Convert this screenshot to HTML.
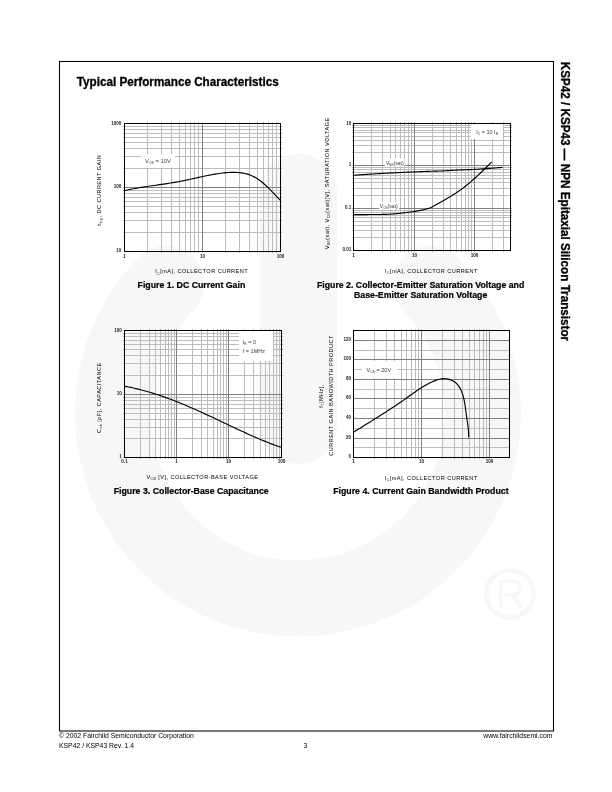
<!DOCTYPE html><html><head><meta charset="utf-8"><title>KSP42 / KSP43 Typical Performance Characteristics</title>
<style>html,body{margin:0;padding:0;background:#fff;}body{width:612px;height:792px;overflow:hidden;position:relative;}svg{position:absolute;left:0;top:0;display:block;}text{font-family:"Liberation Sans", Arial, Helvetica, sans-serif;}.b{stroke:#000;stroke-width:0.3px;}.c{stroke:#000;stroke-width:0.22px;}</style></head><body>
<svg width="612" height="792" viewBox="0 0 612 792">
<g fill="none" stroke="#f7f7f7">
<path d="M429.95,283.83 A185,185 0 1 1 166.05,283.83" stroke-width="76" stroke-linecap="round"/>
<path d="M298.25,192.25V425.25" stroke-width="77.5" stroke-linecap="round"/>
<circle cx="509.8" cy="594.2" r="23.7" stroke-width="4.6"/>
</g>
<text x="495.5" y="608.3" font-size="41" fill="#f7f7f7">R</text>
<rect x="59.5" y="61.5" width="494" height="669.5" fill="none" stroke="#000" stroke-width="1.05"/>
<text transform="translate(76.8,85.7) scale(0.967,1)" font-size="12.1" font-weight="bold" class="b">Typical Performance Characteristics</text>
<text transform="translate(561.2,61.8) rotate(90) scale(0.967,1)" font-size="12.1" font-weight="bold" fill="#000" class="b">KSP42 / KSP43 — NPN Epitaxial Silicon Transistor</text>
<text x="59" y="737.6" font-size="6.83" text-anchor="start" font-weight="normal" fill="#000">© 2002 Fairchild Semiconductor Corporation</text>
<text x="59" y="747.8" font-size="6.83" text-anchor="start" font-weight="normal" fill="#000">KSP42 / KSP43 Rev. 1.4</text>
<text x="305.5" y="747.8" font-size="6.83" text-anchor="middle" font-weight="normal" fill="#000">3</text>
<text x="552.4" y="737.6" font-size="6.83" text-anchor="end" font-weight="normal" fill="#000">www.fairchildsemi.com</text>
<path d="M147.5,123.5V251.5M161.5,123.5V251.5M171.5,123.5V251.5M179.5,123.5V251.5M185.5,123.5V251.5M190.5,123.5V251.5M194.5,123.5V251.5M198.5,123.5V251.5M225.5,123.5V251.5M239.5,123.5V251.5M249.5,123.5V251.5M257.5,123.5V251.5M263.5,123.5V251.5M268.5,123.5V251.5M272.5,123.5V251.5M276.5,123.5V251.5M124.5,232.5H280.5M124.5,220.5H280.5M124.5,212.5H280.5M124.5,206.5H280.5M124.5,201.5H280.5M124.5,197.5H280.5M124.5,193.5H280.5M124.5,190.5H280.5M124.5,168.5H280.5M124.5,156.5H280.5M124.5,148.5H280.5M124.5,142.5H280.5M124.5,137.5H280.5M124.5,133.5H280.5M124.5,129.5H280.5M124.5,126.5H280.5" stroke="#bdbdbd" stroke-width="1.0" fill="none"/>
<path d="M202.5,123.5V251.5M124.5,187.5H280.5" stroke="#808080" stroke-width="1.0" fill="none"/>
<path d="M147.5,123.5v-1.2M147.5,251.5v1.2M161.5,123.5v-1.2M161.5,251.5v1.2M171.5,123.5v-1.2M171.5,251.5v1.2M179.5,123.5v-1.2M179.5,251.5v1.2M185.5,123.5v-1.2M185.5,251.5v1.2M190.5,123.5v-1.2M190.5,251.5v1.2M194.5,123.5v-1.2M194.5,251.5v1.2M198.5,123.5v-1.2M198.5,251.5v1.2M202.5,123.5v-1.2M202.5,251.5v1.2M225.5,123.5v-1.2M225.5,251.5v1.2M239.5,123.5v-1.2M239.5,251.5v1.2M249.5,123.5v-1.2M249.5,251.5v1.2M257.5,123.5v-1.2M257.5,251.5v1.2M263.5,123.5v-1.2M263.5,251.5v1.2M268.5,123.5v-1.2M268.5,251.5v1.2M272.5,123.5v-1.2M272.5,251.5v1.2M276.5,123.5v-1.2M276.5,251.5v1.2M124.5,232.5h-1.2M280.5,232.5h1.2M124.5,220.5h-1.2M280.5,220.5h1.2M124.5,212.5h-1.2M280.5,212.5h1.2M124.5,206.5h-1.2M280.5,206.5h1.2M124.5,201.5h-1.2M280.5,201.5h1.2M124.5,197.5h-1.2M280.5,197.5h1.2M124.5,193.5h-1.2M280.5,193.5h1.2M124.5,190.5h-1.2M280.5,190.5h1.2M124.5,187.5h-1.2M280.5,187.5h1.2M124.5,168.5h-1.2M280.5,168.5h1.2M124.5,156.5h-1.2M280.5,156.5h1.2M124.5,148.5h-1.2M280.5,148.5h1.2M124.5,142.5h-1.2M280.5,142.5h1.2M124.5,137.5h-1.2M280.5,137.5h1.2M124.5,133.5h-1.2M280.5,133.5h1.2M124.5,129.5h-1.2M280.5,129.5h1.2M124.5,126.5h-1.2M280.5,126.5h1.2" stroke="#555" stroke-width="0.7" fill="none"/>
<rect x="140.9" y="154.3" width="34.1" height="13.3" fill="#fff"/>
<rect x="124.5" y="123.5" width="156" height="128" fill="none" stroke="#000" stroke-width="1.0"/>
<path d="M124.6,190.6 L126.46,190.19 L128.31,189.79 L130.17,189.41 L132.02,189.05 L133.88,188.7 L135.73,188.36 L137.58,188.03 L139.43,187.72 L141.28,187.41 L143.14,187.12 L144.98,186.83 L146.83,186.54 L148.68,186.27 L150.53,186 L152.38,185.73 L154.23,185.46 L156.07,185.2 L157.92,184.93 L159.77,184.66 L161.61,184.4 L163.46,184.13 L165.31,183.85 L167.15,183.57 L169,183.28 L170.84,182.99 L172.69,182.69 L174.53,182.38 L176.38,182.06 L178.23,181.72 L180.07,181.38 L181.92,181.02 L183.76,180.64 L185.61,180.26 L187.46,179.87 L189.31,179.46 L191.15,179.06 L193,178.65 L194.85,178.23 L196.7,177.82 L198.55,177.41 L200.41,177 L202.26,176.6 L204.11,176.2 L205.97,175.81 L207.83,175.44 L209.68,175.07 L211.54,174.72 L213.41,174.39 L215.27,174.07 L217.13,173.77 L219,173.5 L220.87,173.24 L222.74,173.02 L224.61,172.81 L226.49,172.64 L228.36,172.5 L230.24,172.4 L232.11,172.34 L233.97,172.32 L235.83,172.36 L237.67,172.45 L239.5,172.6 L241.32,172.81 L243.12,173.09 L244.9,173.45 L246.65,173.89 L248.38,174.41 L250.09,175.01 L251.76,175.71 L253.4,176.5 L255.02,177.37 L256.61,178.32 L258.17,179.34 L259.7,180.42 L261.21,181.56 L262.7,182.76 L264.16,184 L265.6,185.27 L267.01,186.59 L268.41,187.93 L269.79,189.29 L271.14,190.67 L272.48,192.05 L273.81,193.44 L275.11,194.83 L276.4,196.2 L277.68,197.57 L278.94,198.9 L280.19,200.22" stroke="#000" stroke-width="1.15" fill="none"/>
<text x="145" y="163.1" font-size="5.85" text-anchor="start" font-weight="normal" fill="#3a3a3a">V<tspan font-size="3.63" dy="1.29">CE</tspan><tspan dy="-1.29">​</tspan> = 10V</text>
<text transform="translate(121.3,124.8) scale(0.88,1)" font-size="5.2" text-anchor="end" font-weight="bold" fill="#1a1a1a">1000</text>
<text transform="translate(121.3,187.9) scale(0.88,1)" font-size="5.2" text-anchor="end" font-weight="bold" fill="#1a1a1a">100</text>
<text transform="translate(121.3,251.9) scale(0.88,1)" font-size="5.2" text-anchor="end" font-weight="bold" fill="#1a1a1a">10</text>
<text transform="translate(124.5,257.5) scale(0.88,1)" font-size="5.2" text-anchor="middle" font-weight="bold" fill="#1a1a1a">1</text>
<text transform="translate(202.5,257.5) scale(0.88,1)" font-size="5.2" text-anchor="middle" font-weight="bold" fill="#1a1a1a">10</text>
<text transform="translate(280.5,257.5) scale(0.88,1)" font-size="5.2" text-anchor="middle" font-weight="bold" fill="#1a1a1a">100</text>
<text transform="translate(101.3,190.6) rotate(-90)" font-size="5.6" text-anchor="middle" fill="#000" letter-spacing="0.45">h<tspan font-size="3.47" dy="1.23">FE</tspan><tspan dy="-1.23">​</tspan>, DC CURRENT GAIN</text>
<text x="201.7" y="273.3" font-size="5.6" text-anchor="middle" font-weight="normal" fill="#000" letter-spacing="0.45">I<tspan font-size="3.47" dy="1.23">C</tspan><tspan dy="-1.23">​</tspan>[mA], COLLECTOR CURRENT</text>
<text transform="translate(191.4,287.8) scale(0.954,1)" font-size="9.2" text-anchor="middle" font-weight="bold" class="c">Figure 1. DC Current Gain</text>
<path d="M371.5,123.5V250.5M382.5,123.5V250.5M390.5,123.5V250.5M395.5,123.5V250.5M400.5,123.5V250.5M404.5,123.5V250.5M408.5,123.5V250.5M411.5,123.5V250.5M432.5,123.5V250.5M443.5,123.5V250.5M450.5,123.5V250.5M456.5,123.5V250.5M461.5,123.5V250.5M465.5,123.5V250.5M468.5,123.5V250.5M471.5,123.5V250.5M492.5,123.5V250.5M503.5,123.5V250.5M353.5,237.5H510.5M353.5,230.5H510.5M353.5,225.5H510.5M353.5,221.5H510.5M353.5,217.5H510.5M353.5,215.5H510.5M353.5,212.5H510.5M353.5,210.5H510.5M353.5,195.5H510.5M353.5,188.5H510.5M353.5,182.5H510.5M353.5,178.5H510.5M353.5,175.5H510.5M353.5,172.5H510.5M353.5,169.5H510.5M353.5,167.5H510.5M353.5,152.5H510.5M353.5,145.5H510.5M353.5,140.5H510.5M353.5,136.5H510.5M353.5,132.5H510.5M353.5,130.5H510.5M353.5,127.5H510.5M353.5,125.5H510.5" stroke="#bdbdbd" stroke-width="1.0" fill="none"/>
<path d="M414.5,123.5V250.5M474.5,123.5V250.5M353.5,208.5H510.5M353.5,165.5H510.5" stroke="#808080" stroke-width="1.0" fill="none"/>
<path d="M371.5,123.5v-1.2M371.5,250.5v1.2M382.5,123.5v-1.2M382.5,250.5v1.2M390.5,123.5v-1.2M390.5,250.5v1.2M395.5,123.5v-1.2M395.5,250.5v1.2M400.5,123.5v-1.2M400.5,250.5v1.2M404.5,123.5v-1.2M404.5,250.5v1.2M408.5,123.5v-1.2M408.5,250.5v1.2M411.5,123.5v-1.2M411.5,250.5v1.2M414.5,123.5v-1.2M414.5,250.5v1.2M432.5,123.5v-1.2M432.5,250.5v1.2M443.5,123.5v-1.2M443.5,250.5v1.2M450.5,123.5v-1.2M450.5,250.5v1.2M456.5,123.5v-1.2M456.5,250.5v1.2M461.5,123.5v-1.2M461.5,250.5v1.2M465.5,123.5v-1.2M465.5,250.5v1.2M468.5,123.5v-1.2M468.5,250.5v1.2M471.5,123.5v-1.2M471.5,250.5v1.2M474.5,123.5v-1.2M474.5,250.5v1.2M492.5,123.5v-1.2M492.5,250.5v1.2M503.5,123.5v-1.2M503.5,250.5v1.2M353.5,237.5h-1.2M510.5,237.5h1.2M353.5,230.5h-1.2M510.5,230.5h1.2M353.5,225.5h-1.2M510.5,225.5h1.2M353.5,221.5h-1.2M510.5,221.5h1.2M353.5,217.5h-1.2M510.5,217.5h1.2M353.5,215.5h-1.2M510.5,215.5h1.2M353.5,212.5h-1.2M510.5,212.5h1.2M353.5,210.5h-1.2M510.5,210.5h1.2M353.5,208.5h-1.2M510.5,208.5h1.2M353.5,195.5h-1.2M510.5,195.5h1.2M353.5,188.5h-1.2M510.5,188.5h1.2M353.5,182.5h-1.2M510.5,182.5h1.2M353.5,178.5h-1.2M510.5,178.5h1.2M353.5,175.5h-1.2M510.5,175.5h1.2M353.5,172.5h-1.2M510.5,172.5h1.2M353.5,169.5h-1.2M510.5,169.5h1.2M353.5,167.5h-1.2M510.5,167.5h1.2M353.5,165.5h-1.2M510.5,165.5h1.2M353.5,152.5h-1.2M510.5,152.5h1.2M353.5,145.5h-1.2M510.5,145.5h1.2M353.5,140.5h-1.2M510.5,140.5h1.2M353.5,136.5h-1.2M510.5,136.5h1.2M353.5,132.5h-1.2M510.5,132.5h1.2M353.5,130.5h-1.2M510.5,130.5h1.2M353.5,127.5h-1.2M510.5,127.5h1.2M353.5,125.5h-1.2M510.5,125.5h1.2" stroke="#555" stroke-width="0.7" fill="none"/>
<rect x="470.8" y="124.2" width="32.2" height="14.7" fill="#fff"/>
<rect x="384.8" y="158.5" width="19.8" height="7.6" fill="#fff"/>
<rect x="379" y="202" width="20.2" height="7.2" fill="#fff"/>
<rect x="353.5" y="123.5" width="157" height="127" fill="none" stroke="#000" stroke-width="1.0"/>
<path d="M353.6,175.3 L354.85,175.21 L356.1,175.12 L357.35,175.03 L358.61,174.94 L359.86,174.86 L361.11,174.77 L362.36,174.68 L363.61,174.6 L364.86,174.52 L366.11,174.43 L367.36,174.35 L368.62,174.27 L369.87,174.19 L371.12,174.11 L372.37,174.03 L373.62,173.95 L374.87,173.87 L376.12,173.8 L377.37,173.72 L378.63,173.65 L379.88,173.57 L381.13,173.5 L382.38,173.43 L383.63,173.35 L384.88,173.28 L386.13,173.21 L387.38,173.14 L388.64,173.07 L389.89,173 L391.14,172.94 L392.39,172.87 L393.64,172.81 L394.89,172.74 L396.14,172.68 L397.39,172.62 L398.65,172.56 L399.9,172.51 L401.15,172.45 L402.4,172.39 L403.65,172.34 L404.9,172.28 L406.15,172.23 L407.4,172.18 L408.66,172.12 L409.91,172.07 L411.16,172.02 L412.41,171.97 L413.66,171.92 L414.91,171.87 L416.16,171.82 L417.41,171.77 L418.67,171.72 L419.92,171.67 L421.17,171.62 L422.42,171.57 L423.67,171.52 L424.92,171.48 L426.17,171.43 L427.42,171.39 L428.68,171.34 L429.93,171.3 L431.18,171.26 L432.43,171.23 L433.68,171.19 L434.93,171.16 L436.18,171.12 L437.43,171.09 L438.69,171.05 L439.94,171 L441.19,170.95 L442.44,170.89 L443.69,170.83 L444.94,170.76 L446.19,170.7 L447.44,170.63 L448.7,170.56 L449.95,170.49 L451.2,170.43 L452.45,170.36 L453.7,170.3 L454.95,170.23 L456.2,170.17 L457.45,170.1 L458.71,170.04 L459.96,169.98 L461.21,169.93 L462.46,169.88 L463.71,169.83 L464.96,169.79 L466.21,169.74 L467.46,169.69 L468.72,169.65 L469.97,169.6 L471.22,169.55 L472.47,169.49 L473.72,169.43 L474.97,169.36 L476.22,169.28 L477.47,169.2 L478.73,169.1 L479.98,169.01 L481.23,168.91 L482.48,168.82 L483.73,168.73 L484.98,168.64 L486.23,168.56 L487.48,168.48 L488.74,168.4 L489.99,168.32 L491.24,168.24 L492.49,168.15 L493.74,168.06 L494.99,167.97 L496.24,167.88 L497.49,167.79 L498.75,167.69 L500,167.6 L501.25,167.5 L502.5,167.4" stroke="#000" stroke-width="1.15" fill="none"/>
<path d="M353.6,214.6 L354.91,214.6 L356.23,214.6 L357.54,214.6 L358.85,214.59 L360.17,214.59 L361.48,214.58 L362.79,214.58 L364.11,214.57 L365.42,214.57 L366.74,214.56 L368.05,214.55 L369.36,214.54 L370.68,214.54 L371.99,214.53 L373.3,214.52 L374.62,214.51 L375.93,214.5 L377.24,214.49 L378.56,214.48 L379.87,214.47 L381.18,214.46 L382.5,214.44 L383.81,214.42 L385.13,214.4 L386.44,214.36 L387.75,214.3 L389.07,214.23 L390.38,214.14 L391.69,214.04 L393.01,213.94 L394.32,213.84 L395.63,213.73 L396.95,213.6 L398.26,213.46 L399.57,213.31 L400.89,213.15 L402.2,212.99 L403.52,212.83 L404.83,212.67 L406.14,212.52 L407.46,212.37 L408.77,212.22 L410.08,212.07 L411.4,211.91 L412.71,211.74 L414.02,211.56 L415.34,211.36 L416.65,211.14 L417.96,210.91 L419.28,210.66 L420.59,210.4 L421.91,210.12 L423.22,209.83 L424.53,209.52 L425.85,209.17 L427.16,208.79 L428.47,208.39 L429.79,207.95 L431.1,207.5 L431.1,207.5 L432.13,206.91 L433.16,206.33 L434.19,205.76 L435.22,205.18 L436.24,204.61 L437.27,204.04 L438.3,203.46 L439.33,202.89 L440.36,202.32 L441.39,201.74 L442.42,201.16 L443.45,200.58 L444.47,199.99 L445.5,199.4 L446.53,198.81 L447.56,198.21 L448.59,197.6 L449.62,196.99 L450.65,196.37 L451.68,195.74 L452.71,195.1 L453.73,194.45 L454.76,193.79 L455.79,193.12 L456.82,192.44 L457.85,191.75 L458.88,191.05 L459.91,190.33 L460.94,189.6 L461.96,188.85 L462.99,188.09 L464.02,187.31 L465.05,186.52 L466.08,185.71 L467.11,184.88 L468.14,184.04 L469.17,183.19 L470.19,182.32 L471.22,181.43 L472.25,180.54 L473.28,179.63 L474.31,178.71 L475.34,177.78 L476.37,176.84 L477.4,175.89 L478.43,174.93 L479.45,173.97 L480.48,172.99 L481.51,172.01 L482.54,171.02 L483.57,170.02 L484.6,169.02 L485.63,168.02 L486.66,167.01 L487.68,166 L488.71,164.98 L489.74,163.96 L490.77,162.94 L491.8,161.92" stroke="#000" stroke-width="1.15" fill="none" stroke-linejoin="round"/>
<text x="385.9" y="165.2" font-size="5.1" text-anchor="start" font-weight="normal" fill="#3a3a3a">V<tspan font-size="3.16" dy="1.12">BE</tspan><tspan dy="-1.12">​</tspan>(sat)</text>
<text x="379.8" y="207.6" font-size="5.1" text-anchor="start" font-weight="normal" fill="#3a3a3a">V<tspan font-size="3.16" dy="1.12">CE</tspan><tspan dy="-1.12">​</tspan>(sat)</text>
<text x="476.2" y="133.9" font-size="5.5" text-anchor="start" font-weight="normal" fill="#3a3a3a">I<tspan font-size="3.41" dy="1.21">C</tspan><tspan dy="-1.21">​</tspan> = 10 I<tspan font-size="3.41" dy="1.21">B</tspan><tspan dy="-1.21">​</tspan></text>
<text transform="translate(351.3,124.8) scale(0.88,1)" font-size="5.2" text-anchor="end" font-weight="bold" fill="#1a1a1a">10</text>
<text transform="translate(351.3,165.9) scale(0.88,1)" font-size="5.2" text-anchor="end" font-weight="bold" fill="#1a1a1a">1</text>
<text transform="translate(351.3,208.9) scale(0.88,1)" font-size="5.2" text-anchor="end" font-weight="bold" fill="#1a1a1a">0.1</text>
<text transform="translate(351.3,250.9) scale(0.88,1)" font-size="5.2" text-anchor="end" font-weight="bold" fill="#1a1a1a">0.01</text>
<text transform="translate(353.5,256.5) scale(0.88,1)" font-size="5.2" text-anchor="middle" font-weight="bold" fill="#1a1a1a">1</text>
<text transform="translate(414.5,256.5) scale(0.88,1)" font-size="5.2" text-anchor="middle" font-weight="bold" fill="#1a1a1a">10</text>
<text transform="translate(474.5,256.5) scale(0.88,1)" font-size="5.2" text-anchor="middle" font-weight="bold" fill="#1a1a1a">100</text>
<text transform="translate(329.1,183.4) rotate(-90)" font-size="5.6" text-anchor="middle" fill="#000" letter-spacing="0.42">V<tspan font-size="3.47" dy="1.23">BE</tspan><tspan dy="-1.23">​</tspan>(sat), V<tspan font-size="3.47" dy="1.23">CE</tspan><tspan dy="-1.23">​</tspan>(sat)[V], SATURATION VOLTAGE</text>
<text x="431.4" y="272.7" font-size="5.6" text-anchor="middle" font-weight="normal" fill="#000" letter-spacing="0.45">I<tspan font-size="3.47" dy="1.23">C</tspan><tspan dy="-1.23">​</tspan>[mA], COLLECTOR CURRENT</text>
<text transform="translate(420.6,288.1) scale(0.954,1)" font-size="9.2" text-anchor="middle" font-weight="bold" class="c">Figure 2. Collector-Emitter Saturation Voltage and</text>
<text transform="translate(420.6,297.8) scale(0.954,1)" font-size="9.2" text-anchor="middle" font-weight="bold" class="c">Base-Emitter Saturation Voltage</text>
<path d="M140.5,330.5V457.5M149.5,330.5V457.5M155.5,330.5V457.5M160.5,330.5V457.5M165.5,330.5V457.5M168.5,330.5V457.5M171.5,330.5V457.5M174.5,330.5V457.5M192.5,330.5V457.5M201.5,330.5V457.5M207.5,330.5V457.5M213.5,330.5V457.5M217.5,330.5V457.5M220.5,330.5V457.5M223.5,330.5V457.5M226.5,330.5V457.5M244.5,330.5V457.5M253.5,330.5V457.5M260.5,330.5V457.5M265.5,330.5V457.5M269.5,330.5V457.5M273.5,330.5V457.5M276.5,330.5V457.5M279.5,330.5V457.5M124.5,438.5H281.5M124.5,427.5H281.5M124.5,419.5H281.5M124.5,413.5H281.5M124.5,408.5H281.5M124.5,404.5H281.5M124.5,400.5H281.5M124.5,397.5H281.5M124.5,375.5H281.5M124.5,363.5H281.5M124.5,355.5H281.5M124.5,349.5H281.5M124.5,344.5H281.5M124.5,340.5H281.5M124.5,336.5H281.5M124.5,333.5H281.5" stroke="#bdbdbd" stroke-width="1.0" fill="none"/>
<path d="M176.5,330.5V457.5M228.5,330.5V457.5M124.5,394.5H281.5" stroke="#808080" stroke-width="1.0" fill="none"/>
<path d="M140.5,330.5v-1.2M140.5,457.5v1.2M149.5,330.5v-1.2M149.5,457.5v1.2M155.5,330.5v-1.2M155.5,457.5v1.2M160.5,330.5v-1.2M160.5,457.5v1.2M165.5,330.5v-1.2M165.5,457.5v1.2M168.5,330.5v-1.2M168.5,457.5v1.2M171.5,330.5v-1.2M171.5,457.5v1.2M174.5,330.5v-1.2M174.5,457.5v1.2M176.5,330.5v-1.2M176.5,457.5v1.2M192.5,330.5v-1.2M192.5,457.5v1.2M201.5,330.5v-1.2M201.5,457.5v1.2M207.5,330.5v-1.2M207.5,457.5v1.2M213.5,330.5v-1.2M213.5,457.5v1.2M217.5,330.5v-1.2M217.5,457.5v1.2M220.5,330.5v-1.2M220.5,457.5v1.2M223.5,330.5v-1.2M223.5,457.5v1.2M226.5,330.5v-1.2M226.5,457.5v1.2M228.5,330.5v-1.2M228.5,457.5v1.2M244.5,330.5v-1.2M244.5,457.5v1.2M253.5,330.5v-1.2M253.5,457.5v1.2M260.5,330.5v-1.2M260.5,457.5v1.2M265.5,330.5v-1.2M265.5,457.5v1.2M269.5,330.5v-1.2M269.5,457.5v1.2M273.5,330.5v-1.2M273.5,457.5v1.2M276.5,330.5v-1.2M276.5,457.5v1.2M279.5,330.5v-1.2M279.5,457.5v1.2M124.5,438.5h-1.2M281.5,438.5h1.2M124.5,427.5h-1.2M281.5,427.5h1.2M124.5,419.5h-1.2M281.5,419.5h1.2M124.5,413.5h-1.2M281.5,413.5h1.2M124.5,408.5h-1.2M281.5,408.5h1.2M124.5,404.5h-1.2M281.5,404.5h1.2M124.5,400.5h-1.2M281.5,400.5h1.2M124.5,397.5h-1.2M281.5,397.5h1.2M124.5,394.5h-1.2M281.5,394.5h1.2M124.5,375.5h-1.2M281.5,375.5h1.2M124.5,363.5h-1.2M281.5,363.5h1.2M124.5,355.5h-1.2M281.5,355.5h1.2M124.5,349.5h-1.2M281.5,349.5h1.2M124.5,344.5h-1.2M281.5,344.5h1.2M124.5,340.5h-1.2M281.5,340.5h1.2M124.5,336.5h-1.2M281.5,336.5h1.2M124.5,333.5h-1.2M281.5,333.5h1.2" stroke="#555" stroke-width="0.7" fill="none"/>
<rect x="239" y="331" width="34" height="30" fill="#fff"/>
<rect x="124.5" y="330.5" width="157" height="127" fill="none" stroke="#000" stroke-width="1.0"/>
<path d="M124.89,386.31 L126.77,386.66 L128.64,387.02 L130.5,387.4 L132.36,387.8 L134.22,388.21 L136.06,388.63 L137.91,389.07 L139.75,389.53 L141.58,390 L143.41,390.48 L145.23,390.97 L147.05,391.48 L148.86,392 L150.67,392.54 L152.48,393.08 L154.28,393.64 L156.07,394.21 L157.86,394.8 L159.65,395.39 L161.44,395.99 L163.22,396.61 L164.99,397.23 L166.76,397.87 L168.53,398.51 L170.3,399.17 L172.06,399.83 L173.82,400.51 L175.58,401.19 L177.33,401.88 L179.08,402.58 L180.82,403.28 L182.57,404 L184.31,404.72 L186.05,405.45 L187.78,406.18 L189.52,406.93 L191.25,407.67 L192.97,408.43 L194.7,409.19 L196.43,409.96 L198.15,410.73 L199.87,411.5 L201.59,412.28 L203.3,413.07 L205.02,413.86 L206.73,414.65 L208.44,415.45 L210.16,416.25 L211.87,417.05 L213.57,417.85 L215.28,418.66 L216.99,419.47 L218.7,420.28 L220.4,421.09 L222.11,421.9 L223.82,422.71 L225.52,423.53 L227.23,424.34 L228.93,425.15 L230.64,425.96 L232.35,426.77 L234.06,427.57 L235.77,428.38 L237.48,429.18 L239.19,429.98 L240.9,430.77 L242.62,431.56 L244.33,432.35 L246.05,433.13 L247.77,433.91 L249.49,434.68 L251.22,435.45 L252.94,436.21 L254.67,436.97 L256.4,437.72 L258.14,438.46 L259.87,439.19 L261.61,439.92 L263.36,440.64 L265.1,441.35 L266.85,442.05 L268.61,442.74 L270.36,443.43 L272.12,444.1 L273.89,444.76 L275.66,445.42 L277.43,446.06 L279.21,446.69 L281,447.31" stroke="#000" stroke-width="1.15" fill="none"/>
<text x="242.8" y="344" font-size="5.5" text-anchor="start" font-weight="normal" fill="#3a3a3a">I<tspan font-size="3.41" dy="1.21">E</tspan><tspan dy="-1.21">​</tspan> = 0</text>
<text x="242.8" y="352.9" font-size="5.5" text-anchor="start" font-weight="normal" fill="#3a3a3a">f = 1MHz</text>
<text transform="translate(121.8,331.8) scale(0.88,1)" font-size="5.2" text-anchor="end" font-weight="bold" fill="#1a1a1a">100</text>
<text transform="translate(121.8,394.9) scale(0.88,1)" font-size="5.2" text-anchor="end" font-weight="bold" fill="#1a1a1a">10</text>
<text transform="translate(121.8,457.9) scale(0.88,1)" font-size="5.2" text-anchor="end" font-weight="bold" fill="#1a1a1a">1</text>
<text transform="translate(124.5,463.2) scale(0.88,1)" font-size="5.2" text-anchor="middle" font-weight="bold" fill="#1a1a1a">0.1</text>
<text transform="translate(176.5,463.2) scale(0.88,1)" font-size="5.2" text-anchor="middle" font-weight="bold" fill="#1a1a1a">1</text>
<text transform="translate(228.5,463.2) scale(0.88,1)" font-size="5.2" text-anchor="middle" font-weight="bold" fill="#1a1a1a">10</text>
<text transform="translate(281.5,463.2) scale(0.88,1)" font-size="5.2" text-anchor="middle" font-weight="bold" fill="#1a1a1a">100</text>
<text transform="translate(100.5,397.7) rotate(-90)" font-size="5.6" text-anchor="middle" fill="#000" letter-spacing="0.45">C<tspan font-size="3.47" dy="1.23">ob</tspan><tspan dy="-1.23">​</tspan> [pF], CAPACITANCE</text>
<text x="202.4" y="479.1" font-size="5.6" text-anchor="middle" font-weight="normal" fill="#000" letter-spacing="0.45">V<tspan font-size="3.47" dy="1.23">CB</tspan><tspan dy="-1.23">​</tspan> [V], COLLECTOR-BASE VOLTAGE</text>
<text transform="translate(191.2,493.8) scale(0.954,1)" font-size="9.2" text-anchor="middle" font-weight="bold" class="c">Figure 3. Collector-Base Capacitance</text>
<path d="M374.5,330.5V457.5M386.5,330.5V457.5M394.5,330.5V457.5M401.5,330.5V457.5M406.5,330.5V457.5M411.5,330.5V457.5M415.5,330.5V457.5M418.5,330.5V457.5M442.5,330.5V457.5M454.5,330.5V457.5M462.5,330.5V457.5M469.5,330.5V457.5M474.5,330.5V457.5M479.5,330.5V457.5M483.5,330.5V457.5M486.5,330.5V457.5M353.5,447.5H509.5M353.5,428.5H509.5M353.5,408.5H509.5M353.5,389.5H509.5M353.5,369.5H509.5M353.5,350.5H509.5" stroke="#bdbdbd" stroke-width="1.0" fill="none"/>
<path d="M421.5,330.5V457.5M489.5,330.5V457.5M353.5,438.5H509.5M353.5,418.5H509.5M353.5,398.5H509.5M353.5,379.5H509.5M353.5,359.5H509.5M353.5,340.5H509.5" stroke="#808080" stroke-width="1.0" fill="none"/>
<path d="M374.5,330.5v-1.2M374.5,457.5v1.2M386.5,330.5v-1.2M386.5,457.5v1.2M394.5,330.5v-1.2M394.5,457.5v1.2M401.5,330.5v-1.2M401.5,457.5v1.2M406.5,330.5v-1.2M406.5,457.5v1.2M411.5,330.5v-1.2M411.5,457.5v1.2M415.5,330.5v-1.2M415.5,457.5v1.2M418.5,330.5v-1.2M418.5,457.5v1.2M421.5,330.5v-1.2M421.5,457.5v1.2M442.5,330.5v-1.2M442.5,457.5v1.2M454.5,330.5v-1.2M454.5,457.5v1.2M462.5,330.5v-1.2M462.5,457.5v1.2M469.5,330.5v-1.2M469.5,457.5v1.2M474.5,330.5v-1.2M474.5,457.5v1.2M479.5,330.5v-1.2M479.5,457.5v1.2M483.5,330.5v-1.2M483.5,457.5v1.2M486.5,330.5v-1.2M486.5,457.5v1.2M489.5,330.5v-1.2M489.5,457.5v1.2" stroke="#555" stroke-width="0.7" fill="none"/>
<rect x="362" y="361" width="35.2" height="17.2" fill="#fff"/>
<rect x="353.5" y="330.5" width="156" height="127" fill="none" stroke="#000" stroke-width="1.0"/>
<path d="M353.7,432.1 L355.37,431.06 L357.04,430.02 L358.71,428.98 L360.38,427.94 L362.06,426.9 L363.73,425.86 L365.41,424.82 L367.09,423.77 L368.77,422.73 L370.45,421.68 L372.13,420.63 L373.81,419.58 L375.49,418.53 L377.16,417.47 L378.84,416.42 L380.51,415.35 L382.18,414.29 L383.85,413.22 L385.52,412.15 L387.18,411.08 L388.84,410 L390.5,408.92 L392.15,407.83 L393.8,406.74 L395.45,405.65 L397.09,404.55 L398.72,403.44 L400.35,402.33 L401.97,401.22 L403.58,400.1 L405.19,398.97 L406.79,397.84 L408.39,396.7 L409.98,395.56 L411.58,394.42 L413.18,393.29 L414.78,392.16 L416.4,391.05 L418.03,389.94 L419.67,388.85 L421.34,387.78 L423.03,386.73 L424.74,385.71 L426.49,384.71 L428.26,383.75 L430.08,382.82 L431.93,381.93 L433.81,381.1 L435.72,380.36 L437.64,379.72 L439.58,379.22 L441.51,378.87 L443.45,378.69 L445.37,378.71 L447.27,378.93 L449.13,379.33 L450.92,379.93 L452.64,380.71 L454.25,381.66 L455.75,382.8 L457.12,384.1 L458.35,385.56 L459.44,387.15 L460.4,388.86 L461.26,390.66 L462,392.53 L462.66,394.43 L463.23,396.36 L463.73,398.32 L464.16,400.29 L464.54,402.28 L464.88,404.27 L465.18,406.27 L465.46,408.27 L465.72,410.26 L465.98,412.24 L466.25,414.21 L466.53,416.15 L466.82,418.08 L467.11,419.99 L467.4,421.91 L467.67,423.82 L467.93,425.73 L468.17,427.65 L468.37,429.59 L468.53,431.55 L468.64,433.54 L468.7,435.55 L468.7,437.6" stroke="#000" stroke-width="1.15" fill="none"/>
<text x="366.6" y="371.9" font-size="5.5" text-anchor="start" font-weight="normal" fill="#3a3a3a">V<tspan font-size="3.41" dy="1.21">CE</tspan><tspan dy="-1.21">​</tspan> = 20V</text>
<text transform="translate(351,457.9) scale(0.88,1)" font-size="5.2" text-anchor="end" font-weight="bold" fill="#1a1a1a">0</text>
<text transform="translate(351,438.9) scale(0.88,1)" font-size="5.2" text-anchor="end" font-weight="bold" fill="#1a1a1a">20</text>
<text transform="translate(351,418.9) scale(0.88,1)" font-size="5.2" text-anchor="end" font-weight="bold" fill="#1a1a1a">40</text>
<text transform="translate(351,398.9) scale(0.88,1)" font-size="5.2" text-anchor="end" font-weight="bold" fill="#1a1a1a">60</text>
<text transform="translate(351,379.9) scale(0.88,1)" font-size="5.2" text-anchor="end" font-weight="bold" fill="#1a1a1a">80</text>
<text transform="translate(351,359.9) scale(0.88,1)" font-size="5.2" text-anchor="end" font-weight="bold" fill="#1a1a1a">100</text>
<text transform="translate(351,340.9) scale(0.88,1)" font-size="5.2" text-anchor="end" font-weight="bold" fill="#1a1a1a">120</text>
<text transform="translate(353.6,463.3) scale(0.88,1)" font-size="5.2" text-anchor="middle" font-weight="bold" fill="#1a1a1a">1</text>
<text transform="translate(421.6,463.3) scale(0.88,1)" font-size="5.2" text-anchor="middle" font-weight="bold" fill="#1a1a1a">10</text>
<text transform="translate(489.6,463.3) scale(0.88,1)" font-size="5.2" text-anchor="middle" font-weight="bold" fill="#1a1a1a">100</text>
<text transform="translate(322.5,396) rotate(-90)" font-size="5.6" text-anchor="middle" fill="#000" letter-spacing="0.45">f<tspan font-size="3.47" dy="1.23">T</tspan><tspan dy="-1.23">​</tspan>[MHz],</text>
<text transform="translate(332.7,395.5) rotate(-90)" font-size="5.6" text-anchor="middle" fill="#000" letter-spacing="0.45">CURRENT GAIN BANDWIDTH PRODUCT</text>
<text x="431.2" y="480" font-size="5.6" text-anchor="middle" font-weight="normal" fill="#000" letter-spacing="0.45">I<tspan font-size="3.47" dy="1.23">C</tspan><tspan dy="-1.23">​</tspan>[mA], COLLECTOR CURRENT</text>
<text transform="translate(420.9,493.7) scale(0.954,1)" font-size="9.2" text-anchor="middle" font-weight="bold" class="c">Figure 4. Current Gain Bandwidth Product</text>
</svg></body></html>
